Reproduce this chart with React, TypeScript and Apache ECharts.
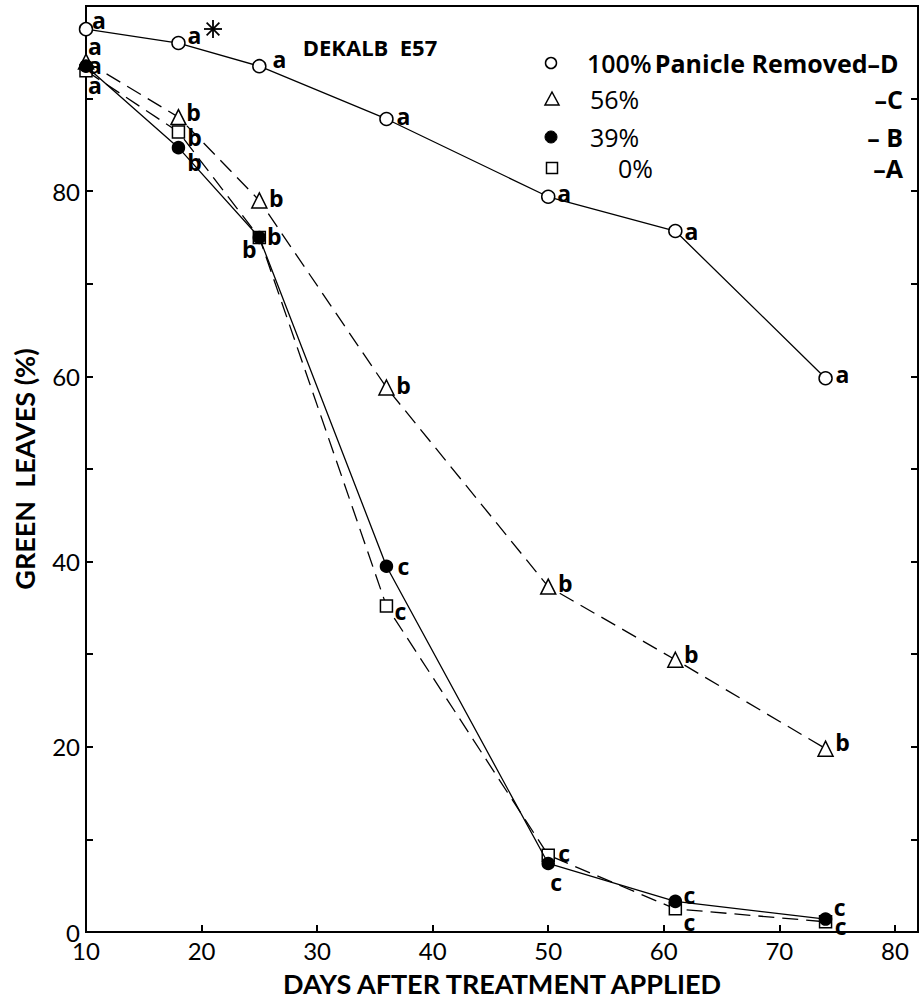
import React, { useEffect, useRef } from "react";
import * as echarts from "echarts";

// Days after treatment applied
const days = [10, 18, 25, 36, 50, 61, 74];
// Green leaves (%) per treatment
const removed100 = [97.5, 96, 93.5, 87.8, 79.4, 75.7, 59.8];
const removed56 = [94, 88, 79, 58.8, 37.3, 29.4, 19.8];
const removed39 = [93.5, 84.7, 75, 39.5, 7.4, 3.3, 1.4];
const removed0 = [93, 86.4, 75, 35.2, 8.3, 2.5, 1.1];
// significance letters
const letters100 = ["a", "a", "a", "a", "a", "a", "a"];
const letters56 = ["a", "b", "b", "b", "b", "b", "b"];
const letters39 = ["a", "b", "b", "c", "c", "c", "c"];
const letters0 = ["a", "b", "b", "c", "c", "c", "c"];
// tick labels
const xTickLabels = [10, 20, 30, 40, 50, 60, 70, 80];
const yTickLabels = [0, 20, 40, 60, 80];

// label offsets (layout only)
const off100 = [[13, -9], [16, -8], [20, -7], [17, -3], [16, -4], [16, 0], [17, -4]];
const off56 = [[9, -16], [15, -5], [17, -2], [17, -3], [17, -4], [16, -6], [17, -7]];
const off39 = [[9, -1], [16, 14], [-10, 11], [17, 0], [8, 19], [14, -6], [14, -12]];
const off0 = [[9, 14], [16, 5], [15, -2], [14, 5], [16, -2], [14, 13], [15, 4]];

const FONT = "Lato, 'Open Sans', sans-serif";
const LFONT = "'Open Sans', Lato, sans-serif";

function makeSeries(
  name: string,
  values: number[],
  letters: string[],
  offsets: number[][],
  symbol: string,
  size: number,
  fill: string,
  dashed: boolean,
  z: number
) {
  return {
    name,
    type: "line",
    z,
    symbol,
    symbolSize: size,
    clip: false,
    itemStyle: { color: fill, borderColor: "#000", borderWidth: 1.5 },
    lineStyle: { color: "#000", width: 1.3, type: dashed ? [16, 8] : "solid" },
    label: {
      show: true,
      position: "inside",
      color: "#000",
      fontWeight: "bold",
      fontSize: 23,
      fontFamily: LFONT,
    },
    data: values.map((v, i) => ({
      value: [days[i], v],
      label: { formatter: letters[i], offset: offsets[i] },
    })),
  };
}

export default function App() {
  const ref = useRef<HTMLDivElement>(null);
  useEffect(() => {
    if (!ref.current) return;
    const chart = echarts.init(ref.current, undefined, { renderer: "svg" });
    const axisLineStyle = { color: "#000", width: 2 };
    const option: any = {
      animation: false,
      backgroundColor: "#fff",
      grid: {
        left: 86,
        right: 5,
        top: 6,
        bottom: 70,
        show: true,
        borderColor: "#000",
        borderWidth: 2,
      },
      xAxis: {
        type: "value",
        min: 10,
        max: 82,
        interval: 10,
        axisLine: { show: true, lineStyle: axisLineStyle },
        axisTick: { show: true, inside: true, length: 7, lineStyle: axisLineStyle },
        splitLine: { show: false },
        axisLabel: {
          color: "#000",
          fontSize: 24,
          fontFamily: FONT,
          margin: 6,
          formatter: (v: number) => (xTickLabels.includes(v) ? String(v) : ""),
        },
        name: "DAYS AFTER TREATMENT APPLIED",
        nameLocation: "middle",
        nameGap: 38,
        nameTextStyle: { color: "#000", fontSize: 27, fontWeight: "bold", fontFamily: FONT },
      },
      yAxis: [
        {
          type: "value",
          min: 0,
          max: 100,
          interval: 10,
          axisLine: { show: true, lineStyle: axisLineStyle },
          axisTick: { show: true, inside: true, length: 7, lineStyle: axisLineStyle },
          splitLine: { show: false },
          axisLabel: {
            color: "#000",
            fontSize: 24,
            fontFamily: FONT,
            margin: 6,
            formatter: (v: number) => (yTickLabels.includes(v) ? String(v) : ""),
          },
          name: "GREEN  LEAVES (%)",
          nameLocation: "middle",
          nameGap: 48,
          nameTextStyle: { color: "#000", fontSize: 27, fontWeight: "bold", fontFamily: FONT },
        },
        {
          type: "value",
          position: "right",
          min: 0,
          max: 100,
          interval: 10,
          axisLine: { show: true, lineStyle: axisLineStyle },
          axisTick: { show: true, inside: true, length: 7, lineStyle: axisLineStyle },
          splitLine: { show: false },
          axisLabel: { show: false },
        },
      ],
      series: [
        makeSeries("100% Panicle Removed–D", removed100, letters100, off100, "circle", 13, "#fff", false, 2),
        makeSeries("56%–C", removed56, letters56, off56, "triangle", 15, "#fff", true, 3),
        makeSeries("0%–A", removed0, letters0, off0, "rect", 12, "#fff", true, 4),
        makeSeries("39%–B", removed39, letters39, off39, "circle", 12, "#000", false, 5),
      ],
      graphic: [
        {
          type: "text",
          x: 370,
          y: 47,
          style: {
            text: "DEKALB  E57",
            fill: "#000",
            font: `bold 22px ${LFONT}`,
            textAlign: "center",
            textVerticalAlign: "middle",
          },
        },
        // asterisk
        ...[0, 45, 90, 135].map((a) => {
          const r = 9;
          const rad = (a * Math.PI) / 180;
          return {
            type: "line",
            shape: {
              x1: 213 - r * Math.cos(rad),
              y1: 29 - r * Math.sin(rad),
              x2: 213 + r * Math.cos(rad),
              y2: 29 + r * Math.sin(rad),
            },
            style: { stroke: "#000", lineWidth: 1.8 },
          };
        }),
        // legend
        { type: "circle", shape: { cx: 551, cy: 63, r: 5.5 }, style: { fill: "#fff", stroke: "#000", lineWidth: 1.5 } },
        {
          type: "text",
          x: 587,
          y: 63,
          style: {
            text: "{n|100%} {b|Panicle Removed–D}",
            rich: {
              n: { font: `600 25px ${LFONT}`, fill: "#000" },
              b: { font: `bold 25px ${LFONT}`, fill: "#000" },
            },
            textVerticalAlign: "middle",
          },
        },
        {
          type: "polygon",
          shape: { points: [[552, 92], [559, 105], [545, 105]] },
          style: { fill: "#fff", stroke: "#000", lineWidth: 1.5 },
        },
        { type: "text", x: 590, y: 99, style: { text: "56%", font: `25px ${LFONT}`, fill: "#000", textVerticalAlign: "middle" } },
        { type: "text", x: 903, y: 99, style: { text: "–C", font: `bold 25px ${LFONT}`, fill: "#000", textAlign: "right", textVerticalAlign: "middle" } },
        { type: "circle", shape: { cx: 551, cy: 137, r: 6 }, style: { fill: "#000", stroke: "#000", lineWidth: 1 } },
        { type: "text", x: 590, y: 137, style: { text: "39%", font: `25px ${LFONT}`, fill: "#000", textVerticalAlign: "middle" } },
        { type: "text", x: 903, y: 137, style: { text: "– B", font: `bold 25px ${LFONT}`, fill: "#000", textAlign: "right", textVerticalAlign: "middle" } },
        { type: "rect", shape: { x: 546.5, y: 162.5, width: 11, height: 11 }, style: { fill: "#fff", stroke: "#000", lineWidth: 1.5 } },
        { type: "text", x: 618, y: 168, style: { text: "0%", font: `25px ${LFONT}`, fill: "#000", textVerticalAlign: "middle" } },
        { type: "text", x: 903, y: 168, style: { text: "–A", font: `bold 25px ${LFONT}`, fill: "#000", textAlign: "right", textVerticalAlign: "middle" } },
      ],
    };
    chart.setOption(option);
    return () => chart.dispose();
  }, []);
  return (
    <div
      ref={ref}
      style={{ position: "absolute", left: 0, top: 0, width: 923, height: 1002, background: "#fff" }}
    />
  );
}
